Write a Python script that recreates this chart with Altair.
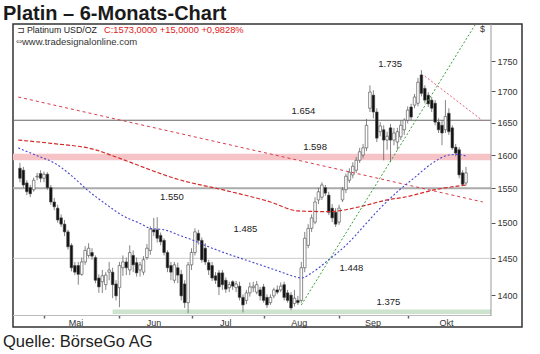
import altair as alt
import pandas as pd

# ---------------- data ----------------
opens = [1580,1577,1558,1551,1548,1567,1572,1565,1571,1551,
         1530,1521,1507,1498,1487,1468,1440,1440,1428,1445,
         1454,1458,1451,1423,1418,1414,1431,1431,1415,1410,
         1437,1445,1434,1454,1444,1434,1431,1451,1461,1490,
         1490,1482,1475,1458,1440,1420,1437,1428,1415,1390,
         1441,1458,1485,1475,1464,1444,1440,1426,1430,1430,
         1420,1410,1418,1410,1412,1397,1393,1403,1410,1404,
         1407,1411,1397,1390,1399,1407,1407,1414,1403,1400,
         1389,1393,1393,1437,1468,1492,1501,1533,1537,1551,
         1540,1521,1515,1501,1533,1548,1562,1570,1577,1592,
         1600,1611,1673,1694,1667,1636,1639,1623,1642,1623,
         1620,1628,1639,1654,1675,1678,1681,1727,1705,1694,
         1686,1681,1651,1646,1639,1665,1642,1612,1608,1573,
         1558]
highs = [1588,1582,1562,1555,1566,1573,1577,1575,1574,1555,
         1536,1526,1512,1504,1490,1471,1445,1445,1451,1467,
         1471,1464,1454,1428,1434,1431,1445,1437,1420,1445,
         1454,1451,1468,1461,1451,1445,1453,1470,1495,1507,
         1508,1486,1478,1461,1445,1445,1444,1434,1420,1445,
         1464,1492,1490,1479,1471,1448,1445,1431,1434,1434,
         1424,1418,1420,1419,1418,1401,1407,1417,1418,1419,
         1411,1415,1401,1401,1410,1413,1417,1418,1407,1404,
         1407,1399,1445,1487,1498,1512,1537,1551,1559,1555,
         1545,1527,1521,1526,1552,1572,1580,1589,1597,1611,
         1617,1656,1710,1702,1673,1651,1646,1636,1648,1642,
         1642,1654,1657,1676,1680,1696,1722,1735,1710,1699,
         1691,1686,1657,1654,1686,1673,1646,1617,1612,1577,
         1582]
lows = [1559,1551,1540,1537,1545,1562,1559,1559,1548,1526,
        1518,1500,1494,1481,1462,1432,1427,1414,1426,1441,
        1451,1448,1416,1403,1403,1407,1420,1396,1393,1384,
        1426,1427,1427,1431,1425,1425,1427,1448,1455,1481,
        1472,1468,1454,1431,1420,1416,1416,1393,1383,1376,
        1434,1454,1469,1444,1441,1427,1419,1415,1400,1407,
        1403,1404,1407,1404,1393,1377,1388,1398,1404,1401,
        1393,1390,1383,1387,1396,1401,1404,1393,1390,1380,
        1385,1387,1390,1431,1464,1487,1498,1527,1533,1539,
        1511,1501,1494,1497,1530,1543,1558,1565,1573,1588,
        1595,1606,1667,1657,1620,1629,1592,1608,1589,1615,
        1608,1623,1631,1649,1654,1673,1676,1692,1681,1675,
        1667,1646,1634,1615,1634,1631,1608,1598,1565,1554,
        1554]
closes = [1565,1555,1545,1542,1562,1568,1565,1571,1551,1530,
          1523,1504,1498,1487,1466,1437,1431,1428,1445,1461,
          1464,1453,1420,1411,1426,1427,1434,1414,1399,1440,
          1445,1437,1458,1441,1430,1441,1448,1464,1491,1487,
          1478,1473,1458,1437,1431,1441,1427,1399,1390,1441,
          1458,1487,1475,1448,1445,1434,1423,1420,1411,1414,
          1408,1414,1412,1415,1397,1387,1403,1411,1412,1414,
          1399,1393,1387,1397,1407,1404,1412,1397,1393,1383,
          1396,1390,1437,1478,1492,1507,1530,1545,1555,1543,
          1515,1507,1498,1521,1548,1568,1574,1583,1592,1605,
          1611,1646,1699,1667,1626,1645,1623,1629,1623,1634,
          1636,1646,1654,1670,1659,1691,1715,1697,1686,1680,
          1673,1651,1639,1634,1660,1636,1611,1603,1570,1556,
          1573]

# moving averages
blue_idx = [-0.5, 5, 10, 15, 20, 25, 30, 35, 38, 42, 46, 50, 55, 60, 65, 70, 75,
            80, 82, 85, 90, 95, 100, 105, 110, 115, 120, 125, 128, 130]
blue_val = [1611, 1599, 1588, 1569, 1546, 1527, 1510, 1499, 1492, 1490, 1483, 1476,
            1466, 1457, 1449, 1441, 1433, 1425, 1423, 1430, 1448, 1468, 1494, 1521,
            1545, 1566, 1587, 1600, 1601, 1598]
red_idx = [-0.5, 9, 22, 28, 47, 59, 73, 81, 90, 99, 107, 112, 121, 130]
red_val = [1623, 1618, 1608, 1597, 1562, 1548, 1530, 1517, 1516, 1523, 1533, 1537, 1548, 1555]

# trend lines
down_idx = [-0.5, 134.9]
down_val = [1691, 1530]
peak_idx = [118, 134.9]
peak_val = [1725, 1653]
up_idx = [82, 132.6]
up_val = [1387, 1811]

# horizontal levels and zones
level_dark = 1654
level_mid = 1550
level_light = 1450
pink_zone = [1592, 1602]
green_zone = [1375, 1381]
green_start = 27

# axis
y_ticks = [1400, 1450, 1500, 1550, 1600, 1650, 1700, 1750]
month_start_idx = [7, 29, 50, 71, 93, 113]
month_mid_idx = [16.3, 39.1, 60, 81.4, 102.9, 124.3]
month_names = ["Mai", "Jun", "Jul", "Aug", "Sep", "Okt"]

annot_text = ["1.735", "1.654", "1.598", "1.550", "1.485", "1.448", "1.375"]
annot_idx = [107.9, 82.6, 86, 44.3, 65.7, 96.6, 107.4]
annot_val = [1745, 1668, 1612, 1537, 1491, 1436, 1391]

# ---------------- chart ----------------
FONT = "Liberation Sans"
W, H = 509, 303
RIGHT = 478  # inner plot right edge (pixels in view)

xs = alt.Scale(domain=[-0.57, 144.86], nice=False, zero=False)
ys = alt.Scale(type="log", domain=[1358.1, 1812.9], nice=False)
xaxis = alt.Axis(orient="bottom", offset=-12, values=month_start_idx, labels=False,
                 domain=False, grid=False, ticks=True, tickSize=3, tickWidth=1.5,
                 tickColor="#666", title=None)
yaxis = alt.Axis(orient="right", offset=-31, values=y_ticks, format="d", domain=False,
                 grid=False, ticks=True, tickSize=4, tickColor="#555",
                 labelFont=FONT, labelFontSize=9, labelColor="#333",
                 labelPadding=2, title=None)

def X(f):
    return alt.X(f, type="quantitative", scale=xs, axis=xaxis)

def Y(f):
    return alt.Y(f, type="quantitative", scale=ys, axis=yaxis)

candles = pd.DataFrame({"i": list(range(len(closes))), "open": opens, "high": highs,
                        "low": lows, "close": closes})
one = pd.DataFrame({"k": [0]})

pink = alt.Chart(pd.DataFrame({"lo": [pink_zone[0]], "hi": [pink_zone[1]]})).mark_rect(
    color="#f6c4c6").encode(x=alt.value(0), x2=alt.value(RIGHT), y=Y("lo"), y2="hi")
green = alt.Chart(pd.DataFrame({"s": [green_start], "lo": [green_zone[0]], "hi": [green_zone[1]]})).mark_rect(
    color="#cde3cd").encode(x=X("s"), x2=alt.value(RIGHT), y=Y("lo"), y2="hi")

def hline(level, color, width):
    return alt.Chart(pd.DataFrame({"v": [level]})).mark_rule(color=color, strokeWidth=width).encode(
        y=Y("v"), x=alt.value(0), x2=alt.value(RIGHT))

l1 = hline(level_dark, "#666", 1.2)
l2 = hline(level_mid, "#aaa", 2)
l3 = hline(level_light, "#ccc", 1)

bottom = alt.Chart(one).mark_rule(color="#bbb", strokeWidth=1).encode(
    x=alt.value(0), x2=alt.value(RIGHT), y=alt.value(291.5))
rightline = alt.Chart(one).mark_rule(color="#999", strokeWidth=1).encode(
    x=alt.value(RIGHT), y=alt.value(0), y2=alt.value(292))

wicks = alt.Chart(candles).mark_rule(color="#666", strokeWidth=0.8).encode(
    x=X("i"), y=Y("low"), y2="high")
bodies = alt.Chart(candles).mark_bar(width=2.6, stroke="#444", strokeWidth=0.6).encode(
    x=X("i"), y=Y("open"), y2="close",
    fill=alt.condition("datum.close >= datum.open", alt.value("white"), alt.value("#111")))

def line(idx, val, color, dash, width=1.0):
    return alt.Chart(pd.DataFrame({"i": idx, "v": val})).mark_line(
        color=color, strokeDash=dash, strokeWidth=width, interpolate="monotone", clip=True).encode(
        x=X("i"), y=Y("v"))

blue = line(blue_idx, blue_val, "#4545cc", [2, 2], 1.1)
red = line(red_idx, red_val, "#d42a2a", [4, 2], 1.2)
down = line(down_idx, down_val, "#d83a4a", [3, 3], 1.0)
peak = line(peak_idx, peak_val, "#e8607a", [2, 2], 1.0)
up = line(up_idx, up_val, "#3a9a3a", [2, 2], 1.0)

annots = alt.Chart(pd.DataFrame({"i": annot_idx, "v": annot_val, "t": annot_text})).mark_text(
    font=FONT, fontSize=9.5, color="#222", align="center", baseline="middle").encode(
    x=X("i"), y=Y("v"), text="t")

months = alt.Chart(pd.DataFrame({"i": month_mid_idx, "t": month_names})).mark_text(
    font=FONT, fontSize=9, color="#333", align="center", baseline="middle").encode(
    x=X("i"), y=alt.value(299), text="t")

def label(text, x, y, size, color="#222", weight="normal", font=FONT, baseline="middle"):
    return alt.Chart(one).mark_text(text=text, font=font, fontSize=size, color=color,
                                    fontWeight=weight, align="left", baseline=baseline).encode(
        x=alt.value(x), y=alt.value(y))

title = label("Platin – 6-Monats-Chart", -10, -4, 20, "#1a1a1a", "bold", baseline="alphabetic")
footer = label("Quelle: BörseGo AG", -10, 323, 16.5, "#222", baseline="alphabetic")
icon1 = label("⊐", 4, 6, 9, "#333", font="DejaVu Sans")
head1 = label("Platinum USD/OZ", 14, 6, 8.8, "#222")
head2 = label("C:1573,0000 +15,0000 +0,9828%", 91, 6, 9.3, "#e02020")
icon2 = label("⇔", 3, 18, 8, "#777", font="DejaVu Sans")
head3 = label("www.tradesignalonline.com", 9, 18, 9.5, "#333")
dollar = label("$", 467, 5, 9, "#333")

chart = alt.layer(
    pink, green, l1, l2, l3, bottom, rightline,
    wicks, bodies, red, down, blue, peak, up,
    annots, months, title, footer, icon1, head1, head2, icon2, head3, dollar
).properties(
    width=W, height=H, autosize="none",
    padding={"left": 13, "top": 24, "right": 18, "bottom": 27},
    background="white"
).configure_view(stroke="#333", strokeWidth=1.5)

chart.save("out.html", embed_options={"renderer": "svg", "actions": False})
